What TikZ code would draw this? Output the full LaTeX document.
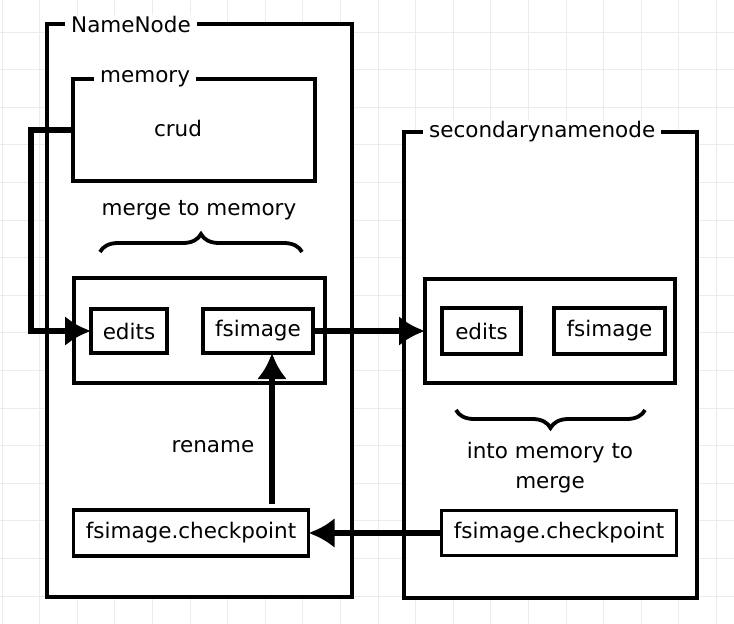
\documentclass[tikz,border=0pt]{standalone}
\usepackage{fontspec}
\setmainfont{DejaVu Sans}
\usetikzlibrary{arrows.meta, decorations.pathreplacing}

\tikzset{
  box/.style={draw, line width=3.6pt, fill=white, inner sep=0pt, outer sep=0pt},
  title/.style={fill=white, anchor=west, inner xsep=6pt, inner ysep=1pt},
  arr/.style={line width=5.5pt, -{Latex[length=26pt, width=30pt]}},
  curly/.style={decorate, decoration={brace, amplitude=18pt}, line width=3.8pt},
  gridline/.style={draw=black!8, line width=1pt}
}

\begin{document}
\begin{tikzpicture}[x=1pt, y=-1pt, font=\fontsize{21.5}{30}\selectfont]
\useasboundingbox (0,0) rectangle (734,624);
\fill[white] (0,0) rectangle (734,624);
\foreach \gx in {0,...,19} \draw[gridline] ({2+37.6*\gx},0) -- ({2+37.6*\gx},624);
\foreach \gy in {0,...,15} \draw[gridline] (0,{32+37.6*\gy}) -- (734,{32+37.6*\gy});

\path (199.5,310.5) node[box, minimum width=305pt, minimum height=573pt] (namenode) {}
      (550.5,365) node[box, minimum width=293pt, minimum height=466pt] (secondary) {};
\path (65,24) node[title] (nntitle) {NameNode}
      (423,132) node[title] (sntitle) {secondarynamenode};

\path (194,130) node[box, minimum width=242pt, minimum height=102pt] (memory) {}
      (94,79) node[title] (memtitle) {memory}
      (178,128) node (crud) {crud}
      (199,210) node (mergetext) {merge to memory};
\draw[curly] (100,252) -- (302,252);

\path (199.5,330.5) node[box, minimum width=251pt, minimum height=105pt] (nnstore) {}
      (129,331) node[box, minimum width=76pt, minimum height=44pt] (nnedits) {edits}
      (258,331) node[box, minimum width=110pt, minimum height=44pt] (nnfsimage) {fsimage}
      (191,533) node[box, minimum width=235pt, minimum height=46pt] (nncheck) {fsimage.checkpoint}
      (213,447) node (renametext) {rename};

\path (550,331) node[box, minimum width=250pt, minimum height=104pt] (snstore) {}
      (481.5,331) node[box, minimum width=79pt, minimum height=46pt] (snedits) {edits}
      (609.5,331) node[box, minimum width=111pt, minimum height=46pt] (snfsimage) {fsimage}
      (559,533) node[box, minimum width=235pt, minimum height=45pt] (sncheck) {fsimage.checkpoint}
      (550,468) node[align=center] (intotext) {into memory to\\merge};
\draw[curly] (645,410) -- (456,410);

\coordinate (renamefoot) at (272,504);
\draw[arr] (memory.west) -- ++(-42,0) |- (nnedits.west);
\draw[arr] (nnfsimage) -- (snstore);
\draw[arr] (sncheck) -- (nncheck);
\draw[arr] (renamefoot) -- (renamefoot |- nnfsimage.south);
\end{tikzpicture}
\end{document}
